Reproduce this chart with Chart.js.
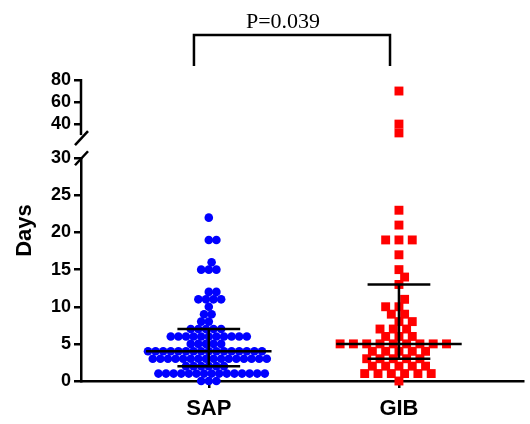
<!DOCTYPE html>
<html>
<head>
<meta charset="utf-8">
<script src="https://cdn.jsdelivr.net/npm/chart.js@4.4.0/dist/chart.umd.min.js"></script>
<style>
    html, body { margin: 0; padding: 0; background: #fff; }
    #wrap { width: 530px; height: 424px; }
</style>
</head>
<body>
<div id="wrap"><canvas id="chart"></canvas></div>
<script>
const groups = ['SAP', 'GIB'];
const sapDays = [
    0, 0, 0,
    1, 1, 1, 1, 1, 1, 1, 1, 1, 1, 1, 1, 1, 1, 1,
    2, 2, 2, 2, 2, 2,
    3, 3, 3, 3, 3, 3, 3, 3, 3, 3, 3, 3, 3, 3, 3, 3,
    4, 4, 4, 4, 4, 4, 4, 4, 4, 4, 4, 4, 4, 4, 4, 4,
    5, 5, 5, 5, 5,
    6, 6, 6, 6, 6, 6, 6, 6, 6, 6, 6,
    7, 7, 7, 7, 7,
    8, 8, 9, 9, 10, 11, 11, 11, 11, 12, 12, 15, 15, 15, 16, 19, 19, 22
];
const gibDays = [
    0,
    1, 1, 1, 1, 1, 1,
    2, 2, 2, 2, 2,
    3, 3, 3, 3, 3,
    4, 4, 4, 4, 4,
    5, 5, 5, 5, 5, 5, 5, 5, 5,
    6, 6, 6,
    7, 7, 7,
    8, 8, 9, 9, 10, 10, 11, 13, 14, 15, 17, 19, 19, 19, 21, 23,
    32, 40, 70
];
const medians = [4, 5];
const lowerQuartiles = [2, 3];
const upperQuartiles = [7, 13];
const lowTicks = [0, 5, 10, 15, 20, 25, 30];
const highTicks = [40, 60, 80];
const breakAt = 30;
const pLabel = 'P=0.039';

const BLACK = '#000';
const MEDIAN_HALF = 0.33;
const CAP_HALF = 0.165;

// beeswarm: each point goes as close to the centre as it can without hitting the ones already placed
function swarm(values, yPixel, xDiam, yDiam) {
    let placed = [];
    let sorted = values.slice().sort((a, b) => a - b);
    sorted.forEach((v, i) => {
        let py = yPixel(v) * xDiam / yDiam;
        let near = placed.filter(p => Math.abs(p.py - py) < xDiam);
        let cands = [0];
        near.forEach(p => {
            let d = Math.sqrt(xDiam * xDiam - (p.py - py) ** 2);
            cands.push(p.dx + d, p.dx - d);
        });
        let ok = cands.filter(c => near.every(p => (p.dx - c) ** 2 + (p.py - py) ** 2 >= xDiam * xDiam - 0.01));
        ok.sort((a, b) => Math.abs(a) - Math.abs(b) || (i % 2 ? b - a : a - b));
        placed.push({ v: v, py: py, dx: ok[0] });
    });
    return placed;
}

function bar(x1, x2, y1, y2) {
    return {
        data: [{ x: x1, y: y1 }, { x: x2, y: y2 }],
        showLine: true,
        borderColor: BLACK,
        borderWidth: 2.5,
        pointRadius: 0,
        yAxisID: 'y',
        order: 0
    };
}

let errorSets = [];
for (let i = 0; i < groups.length; i++) {
    let c = i + 1;
    errorSets.push(bar(c - MEDIAN_HALF, c + MEDIAN_HALF, medians[i], medians[i]));
    errorSets.push(bar(c - CAP_HALF, c + CAP_HALF, lowerQuartiles[i], lowerQuartiles[i]));
    errorSets.push(bar(c - CAP_HALF, c + CAP_HALF, upperQuartiles[i], upperQuartiles[i]));
    errorSets.push(bar(c, c, lowerQuartiles[i], upperQuartiles[i]));
}

const decorations = {
    id: 'decorations',
    afterDraw(chart) {
        let { ctx, chartArea, scales } = chart;
        let lo = scales.y, hi = scales.y2, x = scales.x;
        let ax = chartArea.left;
        ctx.save();
        ctx.strokeStyle = BLACK;
        ctx.lineWidth = 2.5;
        ctx.beginPath();
        ctx.moveTo(ax, hi.getPixelForValue(highTicks[highTicks.length - 1]) - 1);
        ctx.lineTo(ax, hi.getPixelForValue(breakAt));
        ctx.stroke();
        [hi.getPixelForValue(breakAt) + 3, lo.getPixelForValue(breakAt)].forEach(cy => {
            ctx.beginPath();
            ctx.moveTo(ax - 6, cy + 7);
            ctx.lineTo(ax + 7, cy - 7);
            ctx.stroke();
        });

        // significance bracket
        let bl = x.getPixelForValue(0.922), br = x.getPixelForValue(1.953);
        ctx.beginPath();
        ctx.moveTo(bl, 66);
        ctx.lineTo(bl, 35);
        ctx.lineTo(br, 35);
        ctx.lineTo(br, 66);
        ctx.stroke();
        ctx.fillStyle = BLACK;
        ctx.font = '22px "Liberation Serif", serif';
        ctx.textAlign = 'center';
        ctx.textBaseline = 'alphabetic';
        ctx.fillText(pLabel, (bl + br) / 2 - 9, 28);

        ctx.font = 'bold 22px "Liberation Sans", Arial, sans-serif';
        ctx.translate(25, (chartArea.top + chartArea.bottom) / 2);
        ctx.rotate(-Math.PI / 2);
        ctx.textBaseline = 'middle';
        ctx.fillText('Days', 0, 0);
        ctx.restore();
    }
};

Chart.defaults.font.family = '"Liberation Sans", Arial, sans-serif';
Chart.defaults.font.weight = 'bold';
Chart.defaults.color = BLACK;

let ctx = document.getElementById('chart');
let chart = new Chart(ctx, {
    type: 'scatter',
    data: {
        datasets: errorSets.concat([
            {
                label: groups[0],
                data: sapDays.map(v => ({ x: 1, y: v })),
                pointStyle: 'circle',
                pointRadius: 4.3,
                backgroundColor: '#0000ff',
                borderWidth: 0,
                yAxisID: 'y',
                clip: false,
                order: 1
            },
            {
                label: groups[1],
                data: gibDays.filter(v => v <= breakAt).map(v => ({ x: 2, y: v })),
                pointStyle: 'rect',
                pointRadius: 6.3,
                backgroundColor: '#ff0000',
                borderWidth: 0,
                yAxisID: 'y',
                clip: false,
                order: 1
            },
            {
                label: groups[1] + ' high',
                data: gibDays.filter(v => v > breakAt).map(v => ({ x: 2, y: v })),
                pointStyle: 'rect',
                pointRadius: 6.3,
                backgroundColor: '#ff0000',
                borderWidth: 0,
                yAxisID: 'y2',
                clip: false,
                order: 1
            }
        ])
    },
    options: {
        responsive: true,
        maintainAspectRatio: false,
        animation: false,
        events: [],
        layout: { padding: { top: 80, left: 0, right: 2, bottom: 0 } },
        plugins: {
            legend: { display: false },
            tooltip: { enabled: false }
        },
        scales: {
            x: {
                type: 'linear',
                min: 0.328,
                max: 2.656,
                afterFit: s => { s.height = 43; },
                afterBuildTicks: s => { s.ticks = groups.map((g, i) => ({ value: i + 1 })); },
                ticks: {
                    callback: v => groups[v - 1],
                    font: { size: 22, weight: 'bold' },
                    padding: 8
                },
                grid: { drawOnChartArea: false, drawTicks: true, tickLength: 7, color: BLACK, lineWidth: 2.5 },
                border: { display: true, color: BLACK, width: 2.5 }
            },
            y: {
                type: 'linear',
                position: 'left',
                stack: 'days',
                stackWeight: 222,
                min: 0,
                max: 30,
                afterFit: s => { s.width = 81; },
                afterBuildTicks: s => { s.ticks = lowTicks.map(v => ({ value: v })); },
                ticks: { font: { size: 18, weight: 'bold' }, padding: 3, autoSkip: false },
                grid: { drawOnChartArea: false, drawTicks: true, tickLength: 7, color: BLACK, lineWidth: 2.5 },
                border: { display: true, color: BLACK, width: 2.5 }
            },
            y2: {
                type: 'linear',
                position: 'left',
                stack: 'days',
                stackWeight: 78,
                min: 9,
                max: 80,
                afterFit: s => { s.width = 81; },
                afterBuildTicks: s => { s.ticks = highTicks.map(v => ({ value: v })); },
                ticks: { font: { size: 18, weight: 'bold' }, padding: 3, autoSkip: false },
                grid: { drawOnChartArea: false, drawTicks: true, tickLength: 7, color: BLACK, lineWidth: 2.5 },
                border: { display: false }
            }
        }
    },
    plugins: [decorations]
});

// second pass: spread the points sideways now that the scales are known
let xs = chart.scales.x, ylo = chart.scales.y, yhi = chart.scales.y2;
let pxPerUnit = xs.getPixelForValue(2) - xs.getPixelForValue(1);
let yPix = v => (v > breakAt ? yhi : ylo).getPixelForValue(v);
let n = errorSets.length;

let sap = swarm(sapDays, yPix, 7.6, 8);
chart.data.datasets[n].data = sap.map(p => ({ x: 1 + p.dx / pxPerUnit, y: p.v }));

let gib = swarm(gibDays, yPix, 13.3, 8.2);
chart.data.datasets[n + 1].data = gib.filter(p => p.v <= breakAt).map(p => ({ x: 2 + p.dx / pxPerUnit, y: p.v }));
chart.data.datasets[n + 2].data = gib.filter(p => p.v > breakAt).map(p => ({ x: 2 + p.dx / pxPerUnit, y: p.v }));
chart.update('none');
</script>
</body>
</html>
